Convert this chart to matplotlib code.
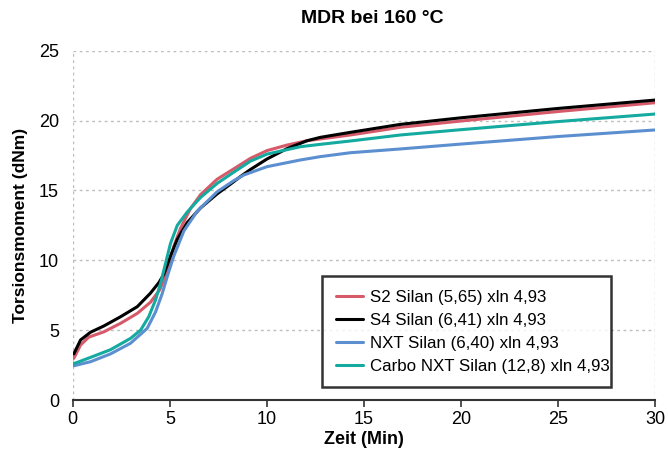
import matplotlib
matplotlib.use("Agg")
import matplotlib.pyplot as plt
import numpy as np

plt.rcParams['font.family'] = ['Liberation Sans', 'DejaVu Sans']

labels = ["S2 Silan (5,65) xln 4,93", "S4 Silan (6,41) xln 4,93",
          "NXT Silan (6,40) xln 4,93", "Carbo NXT Silan (12,8) xln 4,93"]
colors = ["#d65a6a", "#000000", "#5b8fd0", "#14aaa0"]

s2_x = [0.05, 0.4, 0.82, 1.6, 2.46, 3.32, 4.0, 4.48, 4.86, 5.2, 5.55, 6.06, 6.58, 7.43, 8.12, 9.15, 10.0, 11.04, 12.07, 14.3, 16.88, 20, 25, 30]
s2_y = [2.98, 3.94, 4.5, 4.88, 5.49, 6.2, 7.0, 7.9, 9.2, 11.0, 12.3, 13.7, 14.7, 15.8, 16.4, 17.3, 17.85, 18.25, 18.56, 18.97, 19.52, 19.97, 20.65, 21.28]

s4_x = [0.05, 0.4, 0.91, 1.6, 2.46, 3.32, 4.0, 4.43, 4.69, 5.03, 5.38, 5.89, 6.58, 7.43, 8.12, 8.64, 9.15, 10.0, 11.04, 12.07, 12.75, 14.3, 16.88, 20, 25, 30]
s4_y = [3.3, 4.3, 4.85, 5.3, 5.96, 6.68, 7.65, 8.4, 9.0, 10.3, 11.5, 12.7, 13.75, 14.75, 15.45, 16.0, 16.5, 17.25, 18.0, 18.56, 18.8, 19.16, 19.73, 20.2, 20.87, 21.47]

nxt_x = [0.05, 0.91, 1.94, 2.97, 3.83, 4.26, 4.6, 4.9, 5.2, 5.72, 6.4, 7.43, 8.29, 8.8, 10.0, 11.72, 12.75, 14.3, 16.88, 20, 25, 30]
nxt_y = [2.45, 2.74, 3.3, 4.06, 5.13, 6.3, 7.6, 9.0, 10.3, 12.1, 13.5, 14.9, 15.7, 16.1, 16.7, 17.18, 17.42, 17.7, 17.97, 18.32, 18.86, 19.33]

carbo_x = [0.05, 0.91, 1.94, 2.97, 3.49, 3.91, 4.26, 4.52, 4.69, 5.03, 5.38, 5.89, 6.58, 7.43, 8.12, 9.15, 10.0, 11.72, 12.75, 14.3, 16.88, 20, 25, 30]
carbo_y = [2.6, 3.05, 3.6, 4.41, 5.0, 5.96, 7.16, 8.35, 9.3, 11.2, 12.5, 13.45, 14.5, 15.5, 16.15, 17.1, 17.6, 18.13, 18.3, 18.54, 18.97, 19.35, 19.93, 20.47]

series = [(s2_x, s2_y), (s4_x, s4_y), (nxt_x, nxt_y), (carbo_x, carbo_y)]

fig = plt.figure(figsize=(6.68, 4.59), dpi=100)
ax = fig.add_axes([0.109, 0.1285, 0.872, 0.761])

for (xs, ys), c, lab in zip(series, colors, labels):
    ax.plot(xs, ys, color=c, lw=2.2, label=lab, solid_capstyle='round', solid_joinstyle='round')

ax.set_xlim(0, 30)
ax.set_ylim(0, 25)
ax.set_xticks([0, 5, 10, 15, 20, 25, 30])
ax.set_yticks([0, 5, 10, 15, 20, 25])
for yv in [5, 10, 15, 20, 25]:
    ax.axhline(yv, color='#bdbdbd', lw=1, ls=(0, (2, 2.5)), zorder=0)
for xv in [0, 30]:
    ax.axvline(xv, color='#bdbdbd', lw=1, ls=(0, (2, 2.5)), zorder=0)

for s in ['top', 'right', 'left']:
    ax.spines[s].set_visible(False)
ax.spines['bottom'].set_color('#333333')
ax.spines['bottom'].set_linewidth(1.5)
ax.tick_params(axis='x', length=5, width=1.2, color='#333333', labelsize=13, pad=3)
ax.tick_params(axis='y', length=0, labelsize=13, pad=10)

ax.set_xlabel("Zeit (Min)", fontsize=13, fontweight='bold', labelpad=2)
ax.set_ylabel("Torsionsmoment (dNm)", fontsize=12.5, fontweight='bold', labelpad=8)
ax.set_title("MDR bei 160 °C", fontsize=14, fontweight='bold', pad=20, x=0.514)

leg = ax.legend(loc='lower left', bbox_to_anchor=(0.428, 0.037, 0.496, 0.329), mode='expand',
                fontsize=12.2, frameon=True, fancybox=False, borderaxespad=0,
                handlelength=1.6, handletextpad=0.4, labelspacing=0.47, borderpad=0.8)
leg.get_frame().set_edgecolor('black')
leg.get_frame().set_linewidth(1.8)
for line in leg.get_lines():
    line.set_linewidth(2.2)

fig.savefig("out.png", dpi=100)
